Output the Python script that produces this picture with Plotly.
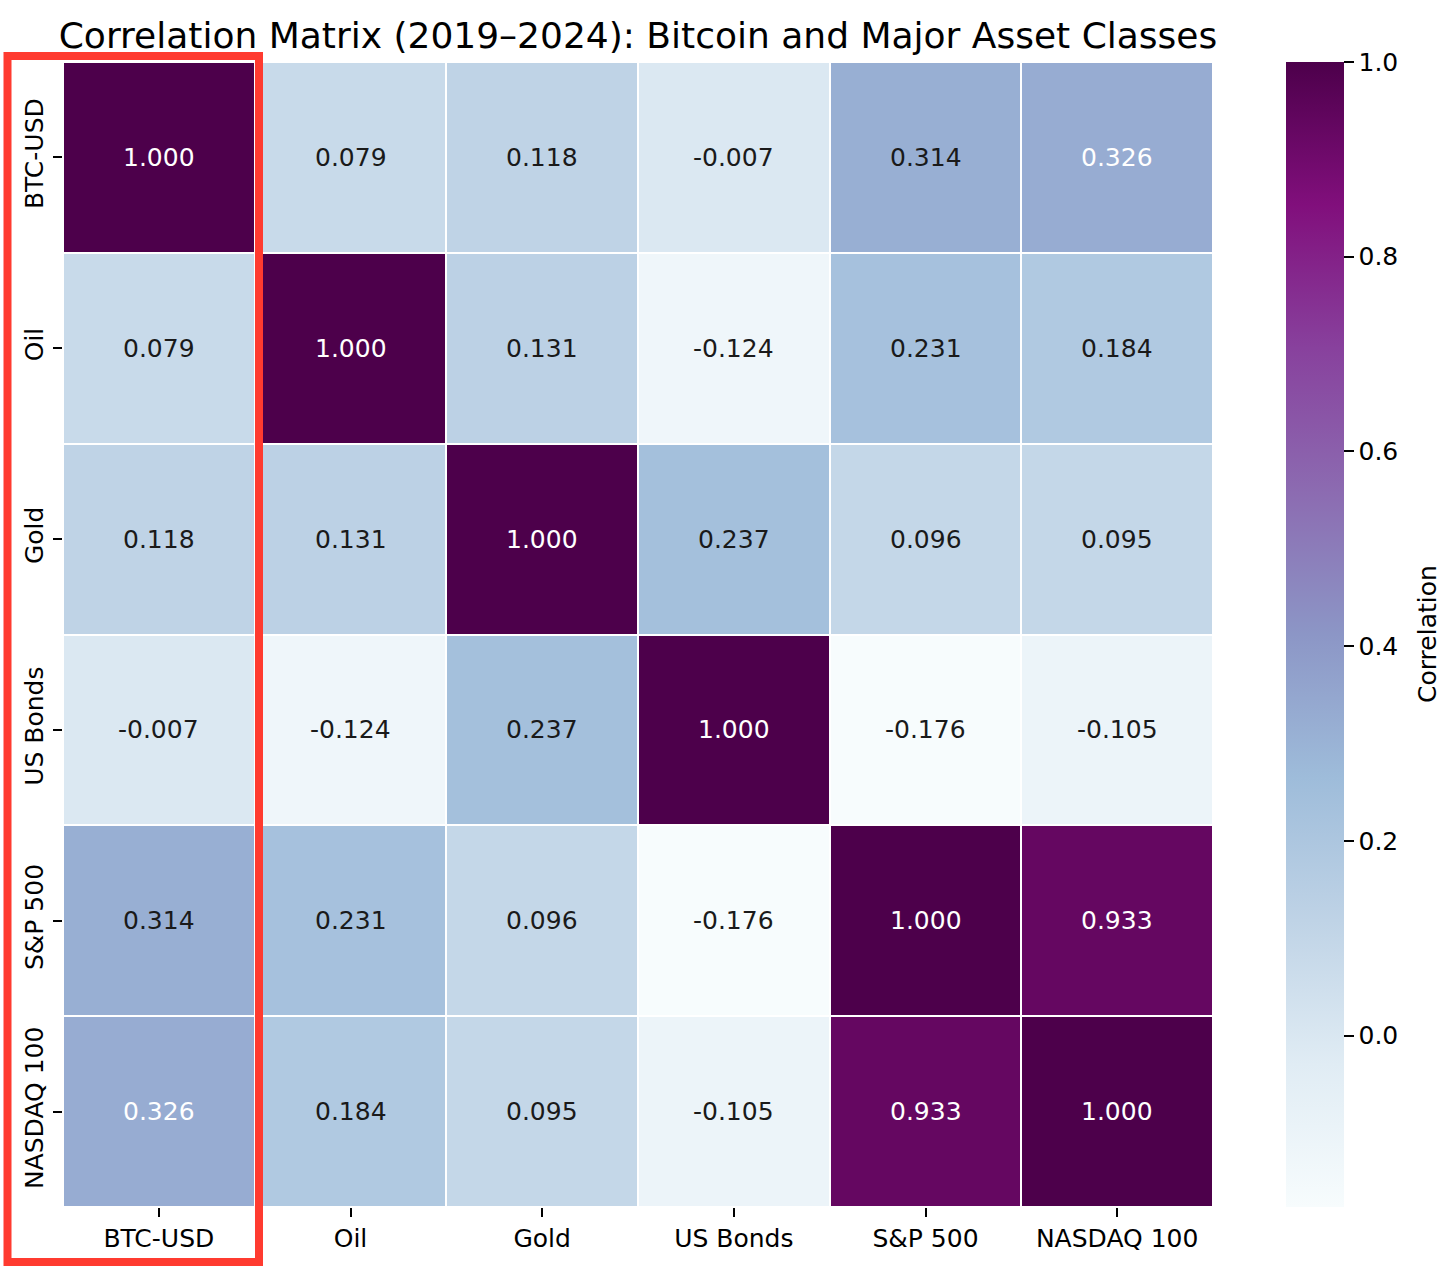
import plotly.graph_objects as go

labels = ["BTC-USD", "Oil", "Gold", "US Bonds", "S&P 500", "NASDAQ 100"]
btc = [1.000, 0.079, 0.118, -0.007, 0.314, 0.326]
oil = [0.079, 1.000, 0.131, -0.124, 0.231, 0.184]
gold = [0.118, 0.131, 1.000, 0.237, 0.096, 0.095]
bonds = [-0.007, -0.124, 0.237, 1.000, -0.176, -0.105]
spx = [0.314, 0.231, 0.096, -0.176, 1.000, 0.933]
ndx = [0.326, 0.184, 0.095, -0.105, 0.933, 1.000]
matrix = [btc, oil, gold, bonds, spx, ndx]

zmin = min(min(r) for r in matrix)
zmax = 1.0

W, H = 1456, 1269
PX0, PX1 = 63, 1213   # plot area in page pixels
PY0, PY1 = 62, 1207
L, T = PX0, PY0
pw = PX1 - PX0
ph = PY1 - PY0
R = W - L - pw
B = H - T - ph

def px(x):
    return (x - PX0) / pw

def py(y):
    return (PY1 - y) / ph

FS = 25

fig = go.Figure(go.Heatmap(
    z=matrix, x=labels, y=labels,
    colorscale="BuPu", zmin=zmin, zmax=zmax,
    xgap=2, ygap=2,
    colorbar=dict(
        x=px(1286), xanchor="left", xref="paper",
        y=1, yanchor="top", len=1, lenmode="fraction", ypad=0, xpad=0,
        thickness=58, thicknessmode="pixels",
        outlinewidth=0,
        tickvals=[0.0, 0.2, 0.4, 0.6, 0.8, 1.0],
        ticktext=["0.0", "0.2", "0.4", "0.6", "0.8", "1.0"],
        ticks="outside", ticklen=10, tickwidth=1.5, tickcolor="black",
        tickfont=dict(size=FS, color="black"),
    ),
    hoverinfo="skip",
))

anns = []
for i, row in enumerate(matrix):
    for j, v in enumerate(row):
        anns.append(dict(
            x=labels[j], y=labels[i], text=f"{v:.3f}", showarrow=False,
            font=dict(size=FS, color="white" if v > 0.32 else "#1a1a1a"),
        ))
anns.append(dict(
    text="Correlation", xref="paper", yref="paper", x=px(1427), y=py(634),
    xanchor="center", yanchor="middle", textangle=-90, showarrow=False,
    font=dict(size=FS, color="black"),
))

fig.update_layout(
    width=W, height=H,
    margin=dict(l=L, r=R, t=T, b=B),
    paper_bgcolor="white", plot_bgcolor="white",
    font=dict(family="DejaVu Sans", color="black"),
    title=dict(text="Correlation Matrix (2019–2024): Bitcoin and Major Asset Classes",
               x=(L + pw / 2) / W, xanchor="center", y=1 - 35 / H, yanchor="middle",
               font=dict(size=36, color="black")),
    annotations=anns,
    xaxis=dict(showgrid=False, zeroline=False, ticks="outside", ticklen=9, tickwidth=1.5,
               tickcolor="black", tickfont=dict(size=FS), showline=False),
    yaxis=dict(showgrid=False, zeroline=False, ticks="outside", ticklen=9, tickwidth=1.5,
               tickcolor="black", tickfont=dict(size=FS), tickangle=-90,
               autorange="reversed", showline=False),
    shapes=[dict(type="rect", xref="paper", yref="paper",
                 x0=px(7.5), x1=px(259),
                 y0=py(1262), y1=py(56),
                 line=dict(color="#ff3b30", width=8), fillcolor="rgba(0,0,0,0)",
                 layer="above")],
)

fig.write_html("out.html", config={"displayModeBar": False},
               post_script="document.body.style.margin='0';document.body.style.overflow='hidden';")
